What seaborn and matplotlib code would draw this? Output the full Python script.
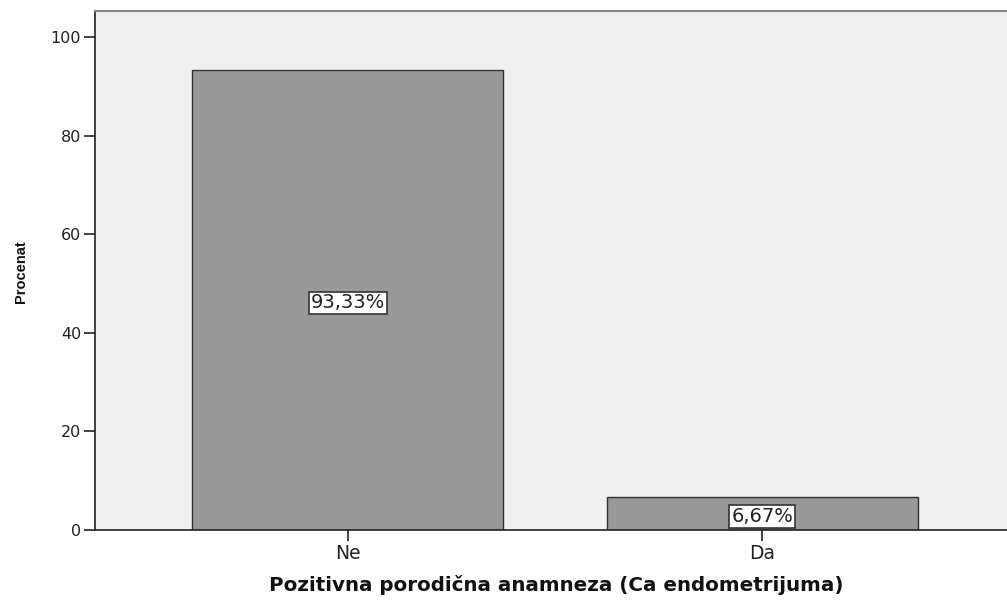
import matplotlib
matplotlib.use("Agg")
import matplotlib.pyplot as plt
import seaborn as sns
import pandas as pd

# data
categories = ["Ne", "Da"]
percents = [93.33, 6.67]
labels = ["93,33%", "6,67%"]

df = pd.DataFrame({"kat": categories, "pct": percents})

sns.set_style("white")
plt.rcParams['font.family'] = ['DejaVu Sans']

fig = plt.figure(figsize=(10.07, 6.06), dpi=100)
ax = fig.add_axes([95 / 1007, 1 - 530 / 606, (1015 - 95) / 1007, (530 - 11) / 606])

sns.barplot(data=df, x="kat", y="pct", order=categories, color="#999999",
            edgecolor="#333333", linewidth=1.0, width=0.75, saturation=1, ax=ax)

ax.set_facecolor("#f0f0f0")
ax.set_xlim(-0.61, 1.61)
ax.set_ylim(0, 105.3)
ax.set_yticks([0, 20, 40, 60, 80, 100])

# labels in the middle of each bar
for i, (v, t) in enumerate(zip(percents, labels)):
    ax.text(i, v / 2 - 0.6, t, ha="center", va="center", fontsize=14, color="#222222",
            bbox=dict(boxstyle="square,pad=0.1", fc="white", ec="#333333", lw=1.2))

for s in ["left", "bottom"]:
    ax.spines[s].set_color("#222222")
    ax.spines[s].set_linewidth(1.2)
ax.spines["top"].set_color("#888888")
ax.spines["top"].set_linewidth(1.5)
ax.spines["right"].set_visible(False)

ax.tick_params(axis="y", direction="out", length=8, width=1.2, color="#222222",
               labelsize=11.5, labelcolor="#222222", left=True, pad=2)
ax.tick_params(axis="x", direction="out", length=8, width=1.2, color="#222222",
               labelsize=13.5, labelcolor="#222222", bottom=True, pad=2)

ax.set_xlabel("Pozitivna porodična anamneza (Ca endometrijuma)", fontsize=14.3,
              fontweight="bold", color="#111111")
ax.set_ylabel("Procenat", fontsize=10.5, fontweight="bold", color="#111111",
              family=["Liberation Sans", "DejaVu Sans"])
ax.xaxis.set_label_coords((556 - 95) / 920, -0.087)
ax.yaxis.set_label_coords((28 - 95) / 920, (530 - 272) / 519)

fig.savefig("out.png", dpi=100)
